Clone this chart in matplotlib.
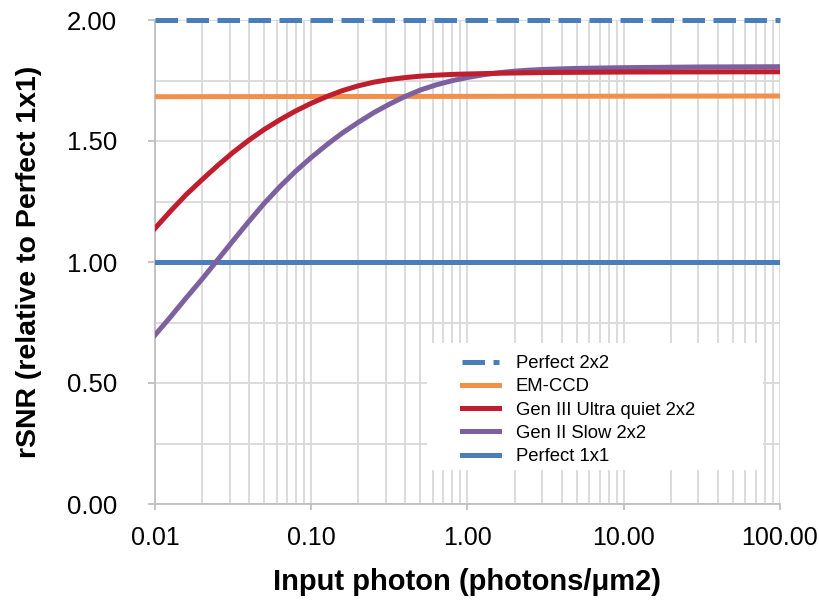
import matplotlib
matplotlib.use("Agg")
import matplotlib.pyplot as plt
from matplotlib.ticker import FixedLocator, LogLocator, NullFormatter
from matplotlib.patches import Rectangle
import numpy as np

plt.rcParams['font.family'] = ['Liberation Sans', 'DejaVu Sans']

# ---- data ----
x_const = [0.01, 100]
perfect_2x2 = [2.0, 2.0]
emccd = [1.683, 1.686]
perfect_1x1 = [1.0, 1.0]

x_gen3 = [0.01, 0.0126, 0.0158, 0.02, 0.0251, 0.0316, 0.0398, 0.0501, 0.0631, 0.0794,
          0.1, 0.126, 0.158, 0.2, 0.251, 0.316, 0.398, 0.501, 0.631, 0.794,
          1, 1.58, 3.16, 10, 100]
gen3 = [1.139, 1.211, 1.278, 1.340, 1.398, 1.453, 1.503, 1.548, 1.588, 1.624,
        1.656, 1.684, 1.708, 1.728, 1.743, 1.754, 1.762, 1.768, 1.772, 1.775,
        1.777, 1.780, 1.783, 1.785, 1.786]

x_gen2 = [0.01, 0.0126, 0.0158, 0.02, 0.0251, 0.0316, 0.0398, 0.0501, 0.0631, 0.0794,
          0.1, 0.126, 0.158, 0.2, 0.251, 0.316, 0.398, 0.501, 0.631, 0.794,
          1, 1.26, 1.58, 2.0, 2.51, 3.16, 5.01, 10, 31.6, 100]
gen2 = [0.698, 0.774, 0.851, 0.929, 1.008, 1.088, 1.167, 1.243, 1.312, 1.375,
        1.432, 1.485, 1.533, 1.577, 1.617, 1.652, 1.684, 1.711, 1.732, 1.749,
        1.7625, 1.7735, 1.782, 1.7885, 1.793, 1.796, 1.800, 1.803, 1.806, 1.807]

x_ticks = [0.01, 0.1, 1, 10, 100]
x_tick_labels = ["0.01", "0.10", "1.00", "10.00", "100.00"]
y_ticks = [0.0, 0.5, 1.0, 1.5, 2.0]
y_tick_labels = ["0.00", "0.50", "1.00", "1.50", "2.00"]
y_minor = [0.25, 0.75, 1.25, 1.75]

BLUE = '#4A7EBB'
ORANGE = '#F0904A'
RED = '#BE1E2D'
PURPLE = '#7D60A0'
GRID = '#D9D9D9'
AXIS = '#BFBFBF'

fig = plt.figure(figsize=(8.2, 6.01), dpi=100)
ax = fig.add_axes([155/820, 1-504/601, 625/820, 484/601])

lw = 3.6
l1, = ax.plot(x_const, perfect_2x2, color=BLUE, lw=lw, dashes=(4.5, 1.7),
              dash_capstyle='butt', zorder=3, label='Perfect 2x2', clip_on=False)
l2, = ax.plot(x_const, emccd, color=ORANGE, lw=lw, zorder=4, label='EM-CCD')
l5, = ax.plot(x_const, perfect_1x1, color=BLUE, lw=lw, zorder=3, label='Perfect 1x1')
l4, = ax.plot(x_gen2, gen2, color=PURPLE, lw=lw, zorder=5, label='Gen II Slow 2x2',
              solid_joinstyle='round')
l3, = ax.plot(x_gen3, gen3, color=RED, lw=lw, zorder=6, label='Gen III Ultra quiet 2x2',
              solid_joinstyle='round')

ax.set_xscale('log')
ax.set_xlim(0.01, 100)
ax.set_ylim(0, 2.0)

ax.xaxis.set_major_locator(FixedLocator(x_ticks))
ax.set_xticklabels(x_tick_labels)
ax.xaxis.set_minor_locator(LogLocator(base=10, subs=np.arange(2, 10)))
ax.xaxis.set_minor_formatter(NullFormatter())
ax.yaxis.set_major_locator(FixedLocator(y_ticks))
ax.set_yticklabels(y_tick_labels)
ax.yaxis.set_minor_locator(FixedLocator(y_minor))

ax.grid(which='both', color=GRID, lw=1.3, zorder=0)
ax.set_axisbelow(True)

for s in ['top', 'right']:
    ax.spines[s].set_visible(False)
for s in ['left', 'bottom']:
    ax.spines[s].set_color(AXIS)
    ax.spines[s].set_linewidth(1.3)

ax.tick_params(axis='both', which='major', color=AXIS, width=1.3, labelcolor='black')
ax.tick_params(axis='y', which='major', length=5, pad=22.5, labelsize=18.5)
ax.tick_params(axis='x', which='major', length=4, pad=12, labelsize=18)
ax.tick_params(which='minor', length=0)

ax.set_xlabel('Input photon (photons/μm2)', fontsize=21, fontweight='bold', labelpad=13)
ax.set_ylabel('rSNR (relative to Perfect 1x1)', fontsize=20.5, fontweight='bold', labelpad=18)

# white legend background box
ax.add_patch(Rectangle((0.4352, 0.0702), 0.9728 - 0.4352, 0.3326 - 0.0702,
                       transform=ax.transAxes, facecolor='white', edgecolor='none',
                       zorder=2))

leg = ax.legend(handles=[l1, l2, l3, l4, l5], loc='upper left',
                bbox_to_anchor=(0.4912, 0.3077), fontsize=13.3, frameon=False,
                handlelength=2.0, handletextpad=0.9, labelspacing=0.34,
                borderpad=0, borderaxespad=0)
leg.set_zorder(10)

fig.savefig('out.png', dpi=100, facecolor='white')
